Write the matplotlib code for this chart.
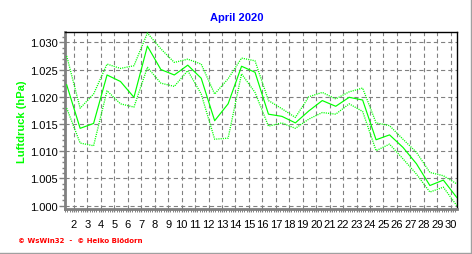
import matplotlib
matplotlib.use("Agg")
import matplotlib.pyplot as plt
from matplotlib.ticker import FixedLocator, MultipleLocator, FuncFormatter
from matplotlib.lines import Line2D

plt.rcParams['lines.scale_dashes'] = False

# Data (daily values, April 2020, hPa)
days = list(range(1, 31))
mean_p = [1022.2, 1014.2, 1015.1, 1024.0, 1022.8, 1019.9, 1029.3, 1025.0, 1024.0, 1025.8,
          1023.4, 1015.6, 1018.7, 1025.6, 1024.5, 1016.8, 1016.4, 1015.2, 1017.4, 1019.3,
          1018.25, 1019.9, 1019.4, 1012.1, 1013.0, 1010.7, 1007.7, 1003.7, 1004.7, 1001.5]
max_p = [1027.5, 1017.9, 1020.5, 1026.0, 1025.2, 1025.7, 1031.7, 1028.8, 1026.3, 1026.9,
         1026.0, 1020.5, 1023.3, 1027.1, 1026.6, 1019.3, 1017.8, 1016.2, 1020.0, 1020.8,
         1019.6, 1020.9, 1021.6, 1015.2, 1014.7, 1012.2, 1009.8, 1006.1, 1005.5, 1004.0]
min_p = [1017.9, 1011.5, 1011.0, 1021.1, 1018.7, 1018.1, 1025.4, 1022.5, 1021.9, 1024.8,
         1020.5, 1012.2, 1012.4, 1024.2, 1020.8, 1014.6, 1015.2, 1014.2, 1015.9, 1017.1,
         1016.8, 1018.7, 1017.3, 1010.1, 1011.3, 1008.6, 1005.8, 1002.5, 1003.4, 1000.0]
tick_days = list(range(2, 31))
tick_labels = [str(d) for d in tick_days]
title = "April 2020"
ylabel = "Luftdruck (hPa)"
footer = "\u00a9 WsWin32  -  \u00a9 Heiko Blödorn"

GREEN = "#00ff00"
GRID = "#808080"
W, H = 472, 255

fig = plt.figure(figsize=(W / 100, H / 100), dpi=100)
fig.patch.set_facecolor("white")
ax = fig.add_axes([65 / W, 1 - 210 / H, (457 - 65) / W, (210 - 33) / H])

x = [d + 0.455 for d in days]
ax.plot(x, max_p, color=GREEN, lw=0.95, linestyle=(0, (0.8, 0.8)), zorder=3)
ax.plot(x, min_p, color=GREEN, lw=0.95, linestyle=(0, (0.8, 0.8)), zorder=3)
ax.plot(x, mean_p, color=GREEN, lw=0.85, zorder=4)

ax.set_xlim(1.33, 30.47)
ax.set_ylim(999.39, 1031.89)

ax.xaxis.set_major_locator(FixedLocator(tick_days))
ax.set_xticklabels(tick_labels)
ax.xaxis.set_minor_locator(MultipleLocator(1 / 6))
ax.yaxis.set_major_locator(MultipleLocator(5))
ax.yaxis.set_minor_locator(MultipleLocator(1))
ax.yaxis.set_major_formatter(FuncFormatter(lambda v, p: f"{v/1000:.3f}"))

ax.grid(True, which="major", color=GRID, linestyle=(0, (3, 2.2)), linewidth=0.8)
ax.set_axisbelow(True)

for s in ["top", "right"]:
    ax.spines[s].set_color("black")
    ax.spines[s].set_linewidth(1.0)
for s in ["left", "bottom"]:
    ax.spines[s].set_color(GRID)
    ax.spines[s].set_linewidth(2.0)

ax.tick_params(axis="y", which="major", length=4, width=1, color=GRID, pad=1.5,
               labelsize=8, labelfontfamily="Liberation Sans")
ax.tick_params(axis="y", which="minor", length=2.5, width=1, color=GRID)
ax.tick_params(axis="x", which="major", length=2.5, width=1, color=GRID, pad=5,
               labelsize=8, labelfontfamily="Liberation Sans")
ax.tick_params(axis="x", which="minor", length=2, width=0.7, color=GRID)

fig.text(237 / W, 1 - 18 / H, title, color="#0000ff", fontsize=8, fontweight="bold",
         ha="center", va="center", family="Liberation Sans")
fig.text(22 / W, 1 - 122 / H, ylabel, color=GREEN, fontsize=8, fontweight="bold",
         rotation=90, ha="center", va="center", family="Liberation Sans")
fig.text(18 / W, 1 - 241 / H, footer, color="#ff0000", fontsize=5, fontweight="bold",
         ha="left", va="center", family="DejaVu Sans")

# gray frame at bottom and right edges of the image
fig.add_artist(Line2D([0, 1], [1 - 253.5 / H] * 2, transform=fig.transFigure, color="#a0a0a0", lw=1.0))
fig.add_artist(Line2D([470.5 / W] * 2, [0, 1], transform=fig.transFigure, color="#a0a0a0", lw=1.0))

fig.savefig("out.png", dpi=100)
